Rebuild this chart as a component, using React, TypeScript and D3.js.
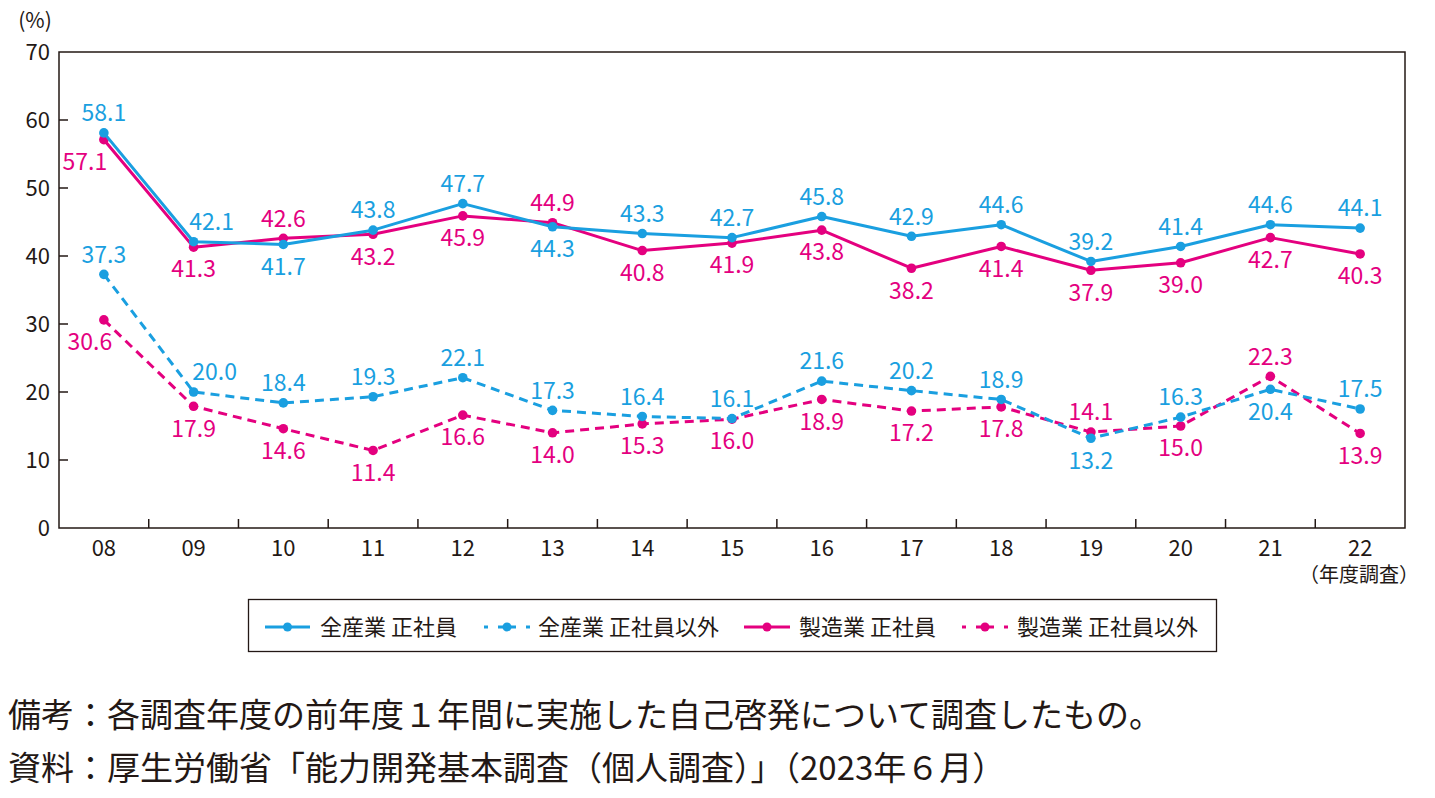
import React from 'react';
import * as d3 from 'd3';

const years = ['08', '09', '10', '11', '12', '13', '14', '15', '16', '17', '18', '19', '20', '21', '22'];
const allRegular = [58.1, 42.1, 41.7, 43.8, 47.7, 44.3, 43.3, 42.7, 45.8, 42.9, 44.6, 39.2, 41.4, 44.6, 44.1];
const allNonRegular = [37.3, 20.0, 18.4, 19.3, 22.1, 17.3, 16.4, 16.1, 21.6, 20.2, 18.9, 13.2, 16.3, 20.4, 17.5];
const mfgRegular = [57.1, 41.3, 42.6, 43.2, 45.9, 44.9, 40.8, 41.9, 43.8, 38.2, 41.4, 37.9, 39.0, 42.7, 40.3];
const mfgNonRegular = [30.6, 17.9, 14.6, 11.4, 16.6, 14.0, 15.3, 16.0, 18.9, 17.2, 17.8, 14.1, 15.0, 22.3, 13.9];
const yTicks = [0, 10, 20, 30, 40, 50, 60, 70];

const seriesNames = ['全産業 正社員', '全産業 正社員以外', '製造業 正社員', '製造業 正社員以外'];

// label placement: a = above, b = below, L = below-left, R = above-right
const allRegularPos = 'aRbaabaaaaaaaaa'.split('');
const allNonRegularPos = 'aRaaaaaaaaababa'.split('');
const mfgRegularPos = 'Lbabbabbbbbbbbb'.split('');
const mfgNonRegularPos = 'Lbbbbbbbbbbabab'.split('');

const BLUE = '#1a9fe0';
const PINK = '#e4007f';
const TEXT = '#231815';
const FONT = '"Noto Sans CJK JP", "Noto Sans", sans-serif';

const W = 1435;
const H = 798;
const left = 59;
const right = 1405;
const top = 52;
const bottom = 528;

export default function App() {
  const x = d3.scaleBand<string>().domain(years).range([left, right]).padding(0);
  const y = d3.scaleLinear().domain([0, 70]).range([bottom, top]);
  const cx = (i: number) => (x(years[i]) as number) + x.bandwidth() / 2;

  const line = d3
    .line<number>()
    .x((_, i) => cx(i))
    .y((d) => y(d));

  const series = [
    { values: mfgNonRegular, pos: mfgNonRegularPos, color: PINK, dash: '9,6', ldx: -14 },
    { values: mfgRegular, pos: mfgRegularPos, color: PINK, dash: null, ldx: -19 },
    { values: allNonRegular, pos: allNonRegularPos, color: BLUE, dash: '9,6', ldx: 21 },
    { values: allRegular, pos: allRegularPos, color: BLUE, dash: null, ldx: 18 },
  ];

  const labelOffset = (p: string, ldx: number) => {
    if (p === 'a') return [0, -20];
    if (p === 'b') return [0, 22];
    if (p === 'L') return [ldx, 22];
    return [ldx, -20];
  };

  const legendItems = [
    { name: seriesNames[0], color: BLUE, dash: null, x0: 265, x1: 310, tx: 320 },
    { name: seriesNames[1], color: BLUE, dash: '4,10,18,10,4', x0: 484, x1: 530, tx: 538 },
    { name: seriesNames[2], color: PINK, dash: null, x0: 744, x1: 790, tx: 799 },
    { name: seriesNames[3], color: PINK, dash: '4,10,18,10,4', x0: 962, x1: 1008, tx: 1017 },
  ];

  return (
    <svg
      width={W}
      height={H}
      style={{ position: 'absolute', left: 0, top: 0, background: '#fff' }}
      fontFamily={FONT}
    >
      <rect x={0} y={0} width={W} height={H} fill="#fff" />
      {/* frame */}
      <rect x={left} y={top} width={right - left} height={bottom - top} fill="none" stroke={TEXT} strokeWidth={1.5} />
      {/* y ticks */}
      {yTicks.map((t) => (
        <g key={'y' + t}>
          {t > 0 && t < 70 && <line x1={left} x2={left + 9} y1={y(t)} y2={y(t)} stroke={TEXT} strokeWidth={1.5} />}
          <text x={50} y={y(t)} dy="0.36em" textAnchor="end" fontSize={22} fill={TEXT}>
            {t}
          </text>
        </g>
      ))}
      <text x={35} y={20} dy="0.36em" textAnchor="middle" fontSize={21} fill={TEXT}>
        (%)
      </text>
      {/* x ticks */}
      {years.slice(1).map((yr) => (
        <line key={'xt' + yr} x1={x(yr) as number} x2={x(yr) as number} y1={bottom} y2={bottom - 9} stroke={TEXT} strokeWidth={1.5} />
      ))}
      {years.map((yr, i) => (
        <text key={'xl' + yr} x={cx(i)} y={548} dy="0.36em" textAnchor="middle" fontSize={22} fill={TEXT}>
          {yr}
        </text>
      ))}
      <text x={1359} y={575} dy="0.36em" textAnchor="middle" fontSize={20} fill={TEXT}>
        （年度調査）
      </text>

      {/* lines */}
      {series.map((s, si) => (
        <g key={'s' + si}>
          <path
            d={line(s.values) as string}
            fill="none"
            stroke={s.color}
            strokeWidth={3}
            strokeDasharray={s.dash || undefined}
            strokeLinejoin="round"
          />
          {s.values.map((v, i) => (
            <circle key={i} cx={cx(i)} cy={y(v)} r={4.8} fill={s.color} />
          ))}
        </g>
      ))}
      {/* labels */}
      {series.map((s, si) => (
        <g key={'l' + si}>
          {s.values.map((v, i) => {
            const [dx, dy] = labelOffset(s.pos[i], s.ldx);
            return (
              <text
                key={i}
                x={cx(i) + dx}
                y={y(v) + dy}
                dy="0.36em"
                textAnchor="middle"
                fontSize={23}
                fill={s.color}
              >
                {v.toFixed(1)}
              </text>
            );
          })}
        </g>
      ))}

      {/* legend */}
      <rect x={248.5} y={599.5} width={968} height={52} fill="none" stroke={TEXT} strokeWidth={1.3} />
      {legendItems.map((it) => (
        <g key={it.name}>
          <line x1={it.x0} x2={it.x1} y1={627} y2={627} stroke={it.color} strokeWidth={3} strokeDasharray={it.dash || undefined} />
          <circle cx={(it.x0 + it.x1) / 2} cy={627} r={4.5} fill={it.color} />
          <text x={it.tx} y={627} dy="0.36em" fontSize={22} fill={TEXT}>
            {it.name}
          </text>
        </g>
      ))}

      {/* notes */}
      <text x={8} y={715} dy="0.36em" fontSize={33} fill={TEXT}>
        備考：各調査年度の前年度１年間に実施した自己啓発について調査したもの。
      </text>
      <text x={8} y={768} dy="0.36em" fontSize={33} fill={TEXT}>
        資料：厚生労働省「能力開発基本調査（個人調査）」（2023年６月）
      </text>
    </svg>
  );
}
